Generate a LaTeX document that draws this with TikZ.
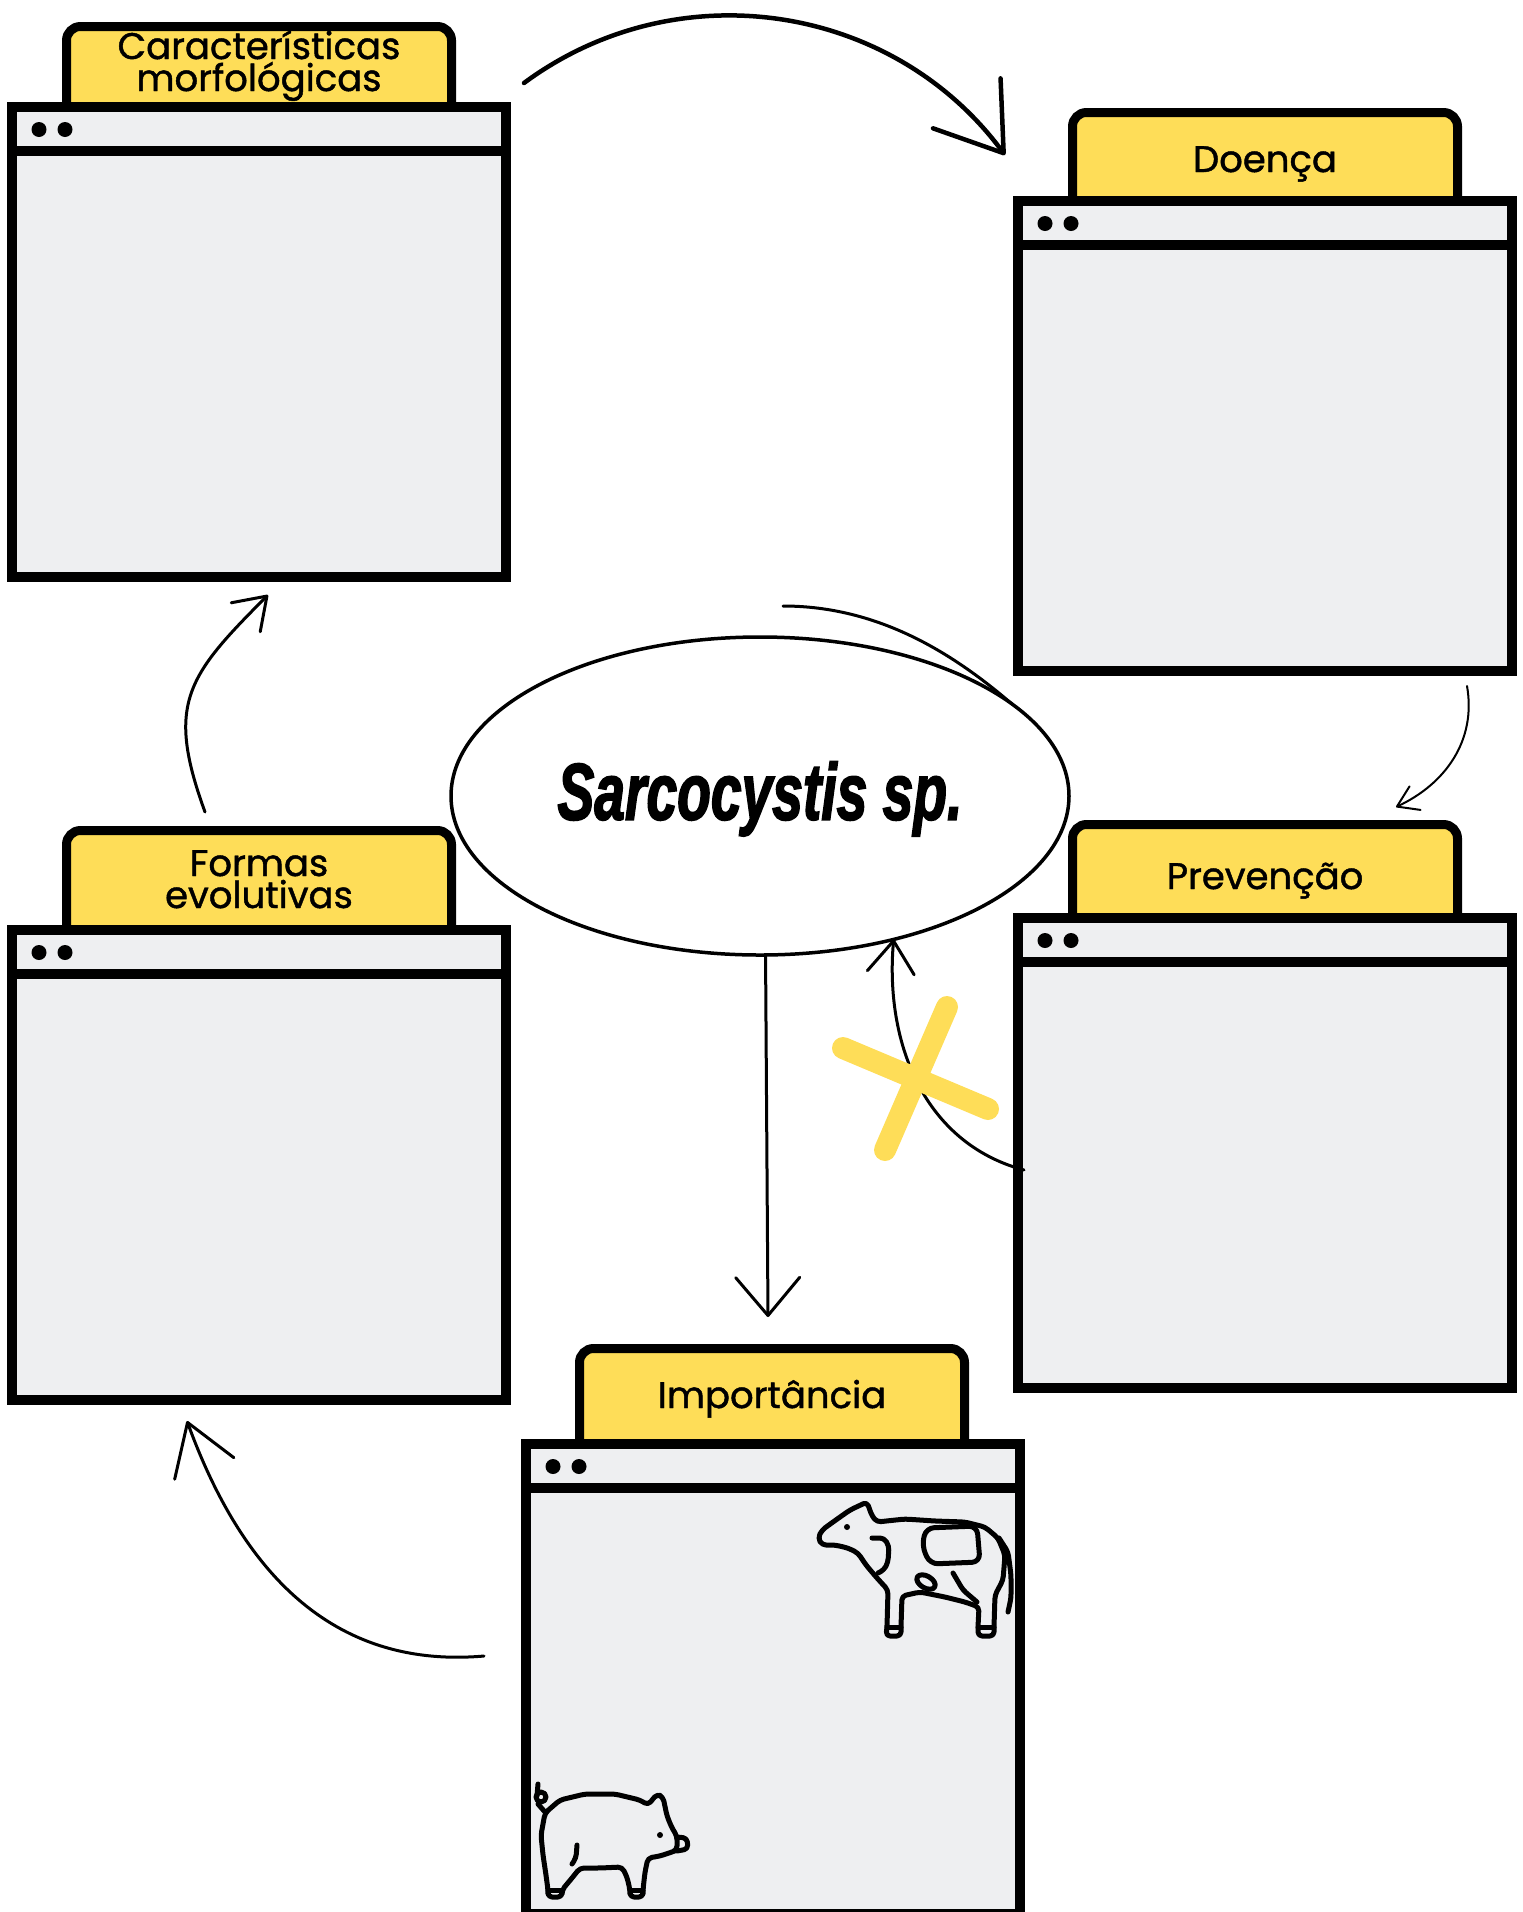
\documentclass[tikz,border=0pt]{standalone}
\usepackage{fontspec}
\usepackage{graphicx}
\usetikzlibrary{arrows.meta, positioning, shapes.geometric}

\newfontfamily\tabfont{Poppins}[FakeBold=1.2]
\newfontfamily\titlefont{Liberation Sans}[BoldItalicFeatures={FakeBold=2.5}]

\definecolor{tabyellow}{RGB}{254,221,88}
\definecolor{winfill}{RGB}{238,239,241}

\tikzset{
  tab/.style={draw, line width=9pt, fill=tabyellow, rounded corners=14pt,
    minimum width=385pt, minimum height=120pt, anchor=north,
    inner sep=0pt, outer sep=0pt},
  window/.style={draw, line width=10pt, fill=winfill, minimum width=494pt,
    minimum height=470pt, anchor=north west, inner sep=0pt, outer sep=0pt},
  bar/.style={line width=10pt},
  tabtext/.style={font=\tabfont\fontsize{37}{32}\selectfont, align=center,
    anchor=base, inner sep=0pt},
  sketch/.style={line width=3pt, line cap=round},
  icon/.style={line width=5pt, line cap=round, line join=round,
    rounded corners=4pt},
}

\begin{document}
\begin{tikzpicture}[x=1pt, y=-1pt]
  \useasboundingbox (0,0) rectangle (1523,1912);

  % windows with their tabs
  \node[tab] (CarTab) at (259,26.5) {};
  \node[window] (Car) at (12,107) {};
  \draw[bar] ([yshift=-43.5pt]Car.north west) -- ([yshift=-43.5pt]Car.north east);
  \fill ([xshift=27pt,yshift=-22.5pt]Car.north west) circle (7.5pt)
        ([xshift=53pt,yshift=-22.5pt]Car.north west) circle (7.5pt);
  \node[tabtext] (CarText) at (259,91) {Características\\morfológicas};

  \node[tab] (DoeTab) at (1265,112.5) {};
  \node[window] (Doe) at (1018,201) {};
  \draw[bar] ([yshift=-43.5pt]Doe.north west) -- ([yshift=-43.5pt]Doe.north east);
  \fill ([xshift=27pt,yshift=-22.5pt]Doe.north west) circle (7.5pt)
        ([xshift=53pt,yshift=-22.5pt]Doe.north west) circle (7.5pt);
  \node[tabtext] (DoeText) at (1265,172) {Doença};

  \node[tab] (PreTab) at (1265,824.5) {};
  \node[window] (Pre) at (1018,918) {};
  \draw[bar] ([yshift=-43.5pt]Pre.north west) -- ([yshift=-43.5pt]Pre.north east);
  \fill ([xshift=27pt,yshift=-22.5pt]Pre.north west) circle (7.5pt)
        ([xshift=53pt,yshift=-22.5pt]Pre.north west) circle (7.5pt);
  \node[tabtext] (PreText) at (1265,889) {Prevenção};

  \node[tab] (ForTab) at (259,830.5) {};
  \node[window] (For) at (12,930) {};
  \draw[bar] ([yshift=-43.5pt]For.north west) -- ([yshift=-43.5pt]For.north east);
  \fill ([xshift=27pt,yshift=-22.5pt]For.north west) circle (7.5pt)
        ([xshift=53pt,yshift=-22.5pt]For.north west) circle (7.5pt);
  \node[tabtext] (ForText) at (259,908) {Formas\\evolutivas};

  \node[tab] (ImpTab) at (772,1348.5) {};
  \node[window] (Imp) at (526,1444) {};
  \draw[bar] ([yshift=-43.5pt]Imp.north west) -- ([yshift=-43.5pt]Imp.north east);
  \fill ([xshift=27pt,yshift=-22.5pt]Imp.north west) circle (7.5pt)
        ([xshift=53pt,yshift=-22.5pt]Imp.north west) circle (7.5pt);
  \node[tabtext] (ImpText) at (772,1408) {Importância};

  % centre
  \node[draw, ellipse, line width=3.5pt, minimum width=618pt, minimum height=318pt,
        inner sep=0pt, outer sep=0pt, text height=57pt, text depth=10pt,
        font=\titlefont\bfseries\itshape\fontsize{80}{80}\selectfont]
        (S) at (760,796) {\scalebox{0.69}[1]{Sarcocystis sp.}};
  \coordinate (Stail) at (783,606);
  \draw[line width=3pt, line cap=round] (Stail) .. controls (880,606) and (955,655) .. (S.20);

  % free ends of the arrows
  \coordinate (c1) at (524,83);
  \coordinate (d1) at (1005,155);
  \coordinate (c2) at (1467,686);
  \coordinate (d2) at (1396,807);
  \coordinate (c3) at (1024,1170);
  \coordinate (d4) at (768,1317);
  \coordinate (c5) at (484,1656);
  \coordinate (d5) at (187,1421);
  \coordinate (c6) at (205,812);
  \coordinate (d6) at (268,595);

  \path[sketch]
    (c1) edge[line width=4.5pt, bend left=45, -{Straight Barb[length=62pt,width=84pt,round]}] (d1)
    (c2) edge[line width=2pt, out=-80, in=25, -{Straight Barb[length=20pt,width=26pt,round]}] (d2)
    (c3) edge[out=165, in=-95, -{Straight Barb[length=32pt,width=47pt,round]}] (S.-47)
    (S.-88) edge[-{Straight Barb[length=38pt,width=64pt,round]}] (d4)
    (c5) edge[out=185, in=-70, looseness=1.05, -{Straight Barb[length=49pt,width=63pt,round]}] (d5)
    (c6) edge[out=110, in=-135, looseness=1.3, -{Straight Barb[length=30pt,width=41pt,round]}] (d6);

  % yellow cross
  \draw[tabyellow, line width=22pt, line cap=round] (843,1048) -- (988,1109)
                                                   (947,1007) -- (885,1150);

  % cow
  \draw[icon] (877,1522) -- (905,1519) -- (935,1521) -- (965,1522) -- (985,1527)
    -- (998,1538) -- (1005,1555) -- (1003,1580) -- (995,1595) -- (994,1627)
    -- (994,1636) -- (978,1636) -- (978,1627) -- (979,1607) -- (965,1602)
    -- (945,1597) -- (920,1592) -- (902,1596) -- (901,1627) -- (901,1636)
    -- (886,1636) -- (887,1627) -- (888,1590) -- (877,1578) -- (866,1565)
    -- (858,1553) -- (848,1548) -- (835,1545) -- (822,1545) -- (818,1538)
    -- (822,1530) -- (833,1522) -- (850,1510) -- (867,1502) -- (872,1516) -- cycle;
  \draw[icon] (887,1627) -- (901,1627) (978,1627) -- (994,1627);
  \draw[icon] (999,1538) -- (1008,1552) -- (1011,1575) -- (1011,1598) -- (1008,1612);
  \draw[icon, rounded corners=8pt] (926,1528) -- (977,1526) -- (980,1562) -- (930,1564) -- (922,1546) -- cycle;
  \draw[icon] (926,1582) ellipse[x radius=10, y radius=6, rotate=-30];
  \draw[icon] (872,1538) -- (884,1538) -- (889,1546) -- (888,1562) -- (884,1570) -- (878,1573);
  \draw[icon] (953,1573) -- (963,1590) -- (977,1602);
  \fill (847,1527) circle (3pt);

  % pig
  \draw[icon] (545,1813) -- (560,1800) -- (585,1794) -- (615,1794) -- (640,1800)
    -- (648,1805) -- (657,1794) -- (663,1797) -- (667,1816) -- (672,1828)
    -- (677,1836) -- (677,1850) -- (672,1852) -- (660,1856) -- (648,1858)
    -- (645,1872) -- (643,1890) -- (643,1897) -- (630,1897) -- (630,1890)
    -- (627,1877) -- (622,1867) -- (600,1868) -- (580,1868) -- (572,1878)
    -- (562,1890) -- (562,1897) -- (548,1897) -- (548,1890) -- (546,1875)
    -- (543,1855) -- (541,1835) -- cycle;
  \draw[icon] (677,1837) -- (687,1838) -- (688,1849) -- (677,1851);
  \draw[icon] (643,1890) -- (630,1890) (562,1890) -- (548,1890);
  \draw[icon] (545,1812) -- (538,1804);
  \draw[icon] (541,1797) circle (5pt);
  \draw[icon] (537,1796) -- (538,1784);
  \draw[icon] (577,1845) -- (576,1858) -- (572,1864);
  \fill (660,1835) circle (3pt);
\end{tikzpicture}
\end{document}
